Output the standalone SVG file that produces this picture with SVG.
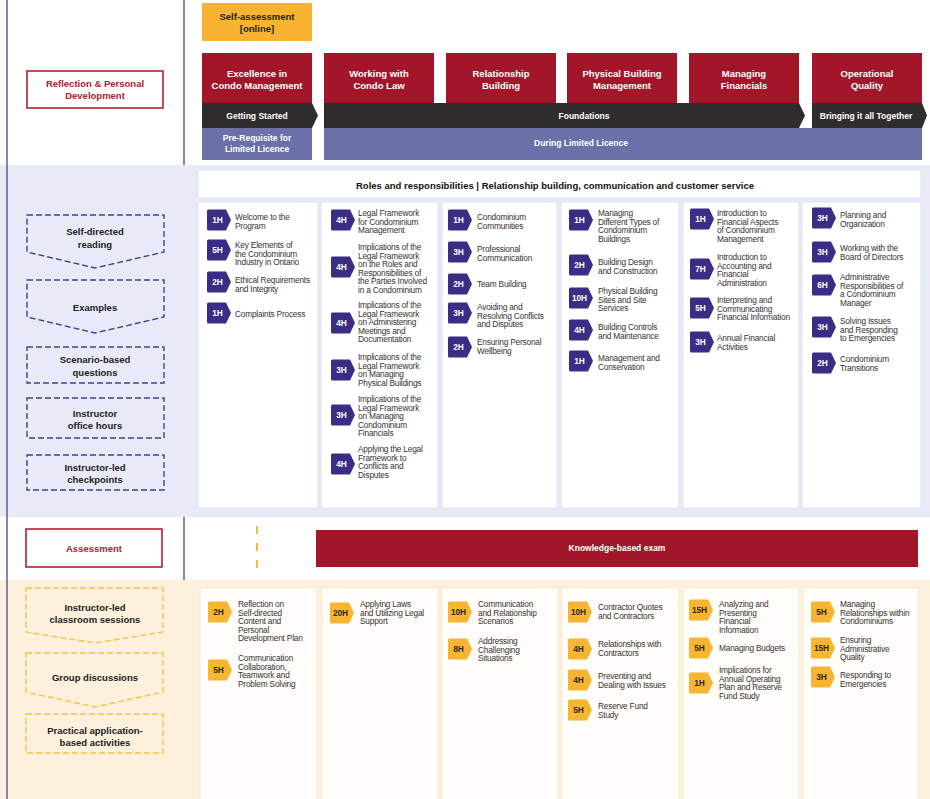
<svg xmlns="http://www.w3.org/2000/svg" xmlns:xlink="http://www.w3.org/1999/xlink" width="930" height="799" viewBox="0 0 930 799">
<style>
text{dominant-baseline:central;font-family:"Liberation Sans",Arial,sans-serif}
.lav{fill:#e8ebf7}
.crm{fill:#fdf1dd}
.panel{fill:#ffffff;stroke:#d9ddf0;stroke-width:0.8}
.panelo{fill:#fffdf9;stroke:#f7e6c8;stroke-width:0.8}
.red{fill:#a3162a}
.dark{fill:#2f2c2d}
.slate{fill:#6b70a8}
.yel{fill:#f8b431}
.hdr{font-size:9.5px;font-weight:bold;fill:#fff;text-anchor:middle}
.hdrs{font-size:8.5px;font-weight:bold;fill:#fff;text-anchor:middle}
.lbl{font-size:9.5px;font-weight:bold;fill:#222;text-anchor:middle}
.rlbl{font-size:9.5px;font-weight:bold;fill:#b0202f;text-anchor:middle}
.redbox{fill:#fff;stroke:#b5212e;stroke-width:1.6}
.item{font-size:8.3px;fill:#333;letter-spacing:-0.2px}
.bp{fill:#3b2c85}
.bo{fill:#f7b532}
.bt{font-size:8.3px;font-weight:bold;fill:#fff;text-anchor:middle}
.bto{font-size:8.3px;font-weight:bold;fill:#2a2a2a;text-anchor:middle}
.dn{fill:none;stroke:#404290;stroke-width:1.4;stroke-dasharray:6 3}
.do{fill:none;stroke:#f5c24a;stroke-width:1.4;stroke-dasharray:6 3}
.vline{stroke:#5a5ea0;stroke-width:1.5}
</style>
<defs>
<path id="bdg" d="M1.5,0 H19 L24,10.5 L19,21 H1.5 Q0,21 0,19.5 V1.5 Q0,0 1.5,0 Z"/>
</defs>

<!-- backgrounds -->
<rect x="0" y="0" width="930" height="799" fill="#ffffff"/>
<rect class="lav" x="0" y="165" width="930" height="352"/>
<rect class="crm" x="0" y="580" width="930" height="219"/>
<line class="vline" x1="7" y1="0" x2="7" y2="799"/>
<line class="vline" x1="184" y1="0" x2="184" y2="165"/>
<line class="vline" x1="184" y1="517" x2="184" y2="580"/>

<!-- top row -->
<g id="self-assessment">
<rect class="yel" x="202" y="3" width="110" height="38"/>
<text class="lbl" x="257" y="16">Self-assessment</text>
<text class="lbl" x="257" y="28">[online]</text>
</g>
<g id="reflection">
<rect class="redbox" x="27" y="71" width="136" height="37"/>
<text class="rlbl" x="95" y="83">Reflection &amp; Personal</text>
<text class="rlbl" x="95" y="95">Development</text>
</g>
<g id="mod-excellence"><rect class="red" x="202" y="53" width="110" height="50"/><text class="hdr" x="257" y="73">Excellence in</text><text class="hdr" x="257" y="85">Condo Management</text></g>
<g id="mod-law"><rect class="red" x="324" y="53" width="110" height="50"/><text class="hdr" x="379" y="73">Working with</text><text class="hdr" x="379" y="85">Condo Law</text></g>
<g id="mod-relationship"><rect class="red" x="446" y="53" width="110" height="50"/><text class="hdr" x="501" y="73">Relationship</text><text class="hdr" x="501" y="85">Building</text></g>
<g id="mod-physical"><rect class="red" x="567" y="53" width="110" height="50"/><text class="hdr" x="622" y="73">Physical Building</text><text class="hdr" x="622" y="85">Management</text></g>
<g id="mod-financials"><rect class="red" x="689" y="53" width="110" height="50"/><text class="hdr" x="744" y="73">Managing</text><text class="hdr" x="744" y="85">Financials</text></g>
<g id="mod-operational"><rect class="red" x="812" y="53" width="110" height="50"/><text class="hdr" x="867" y="73">Operational</text><text class="hdr" x="867" y="85">Quality</text></g>

<g id="phase-getting-started"><path class="dark" d="M202,103 H312 L318,115.5 L312,128 H202 Z"/><text class="hdrs" x="257" y="116">Getting Started</text></g>
<g id="phase-foundations"><path class="dark" d="M324,103 H799 L805,115.5 L799,128 H324 Z"/><text class="hdrs" x="584" y="116">Foundations</text></g>
<g id="phase-together"><path class="dark" d="M812,103 H922 L927,115.5 L922,128 H812 Z"/><text class="hdrs" x="866" y="116">Bringing it all Together</text></g>
<g id="licence-pre"><rect class="slate" x="202" y="128" width="110" height="32"/><text class="hdrs" x="257" y="138">Pre-Requisite for</text><text class="hdrs" x="257" y="149">Limited Licence</text></g>
<g id="licence-during"><rect class="slate" x="324" y="128" width="598" height="32"/><text class="hdrs" x="581" y="143">During Limited Licence</text></g>

<!-- blue band -->
<g id="roles-header">
<rect class="panel" x="198" y="170" width="723" height="28"/>
<text x="555" y="185" style="font-size:9.5px;font-weight:bold;fill:#111;text-anchor:middle">Roles and responsibilities | Relationship building, communication and customer service</text>
</g>
<g id="left-self-directed"><path class="dn" d="M27,215 H164 V252 L95,268 L27,252 Z"/><text class="lbl" x="95" y="231">Self-directed</text><text class="lbl" x="95" y="244">reading</text></g>
<g id="left-examples"><path class="dn" d="M27,280 H164 V317 L95,333 L27,317 Z"/><text class="lbl" x="95" y="307">Examples</text></g>
<g id="left-scenario"><rect class="dn" x="27" y="347" width="137" height="36"/><text class="lbl" x="95" y="359">Scenario-based</text><text class="lbl" x="95" y="372">questions</text></g>
<g id="left-office"><rect class="dn" x="27" y="398" width="137" height="40"/><text class="lbl" x="95" y="413">Instructor</text><text class="lbl" x="95" y="425">office hours</text></g>
<g id="left-checkpoints"><rect class="dn" x="27" y="455" width="137" height="35"/><text class="lbl" x="95" y="467">Instructor-led</text><text class="lbl" x="95" y="479">checkpoints</text></g>

<g id="col1-self">
<rect class="panel" x="198" y="202" width="120" height="306"/>
<use href="#bdg" class="bp" x="207" y="209.5"/><text class="bt" x="217.5" y="220">1H</text>
<text class="item"><tspan x="235" y="217">Welcome to the</tspan><tspan x="235" y="225.6">Program</tspan></text>
<use href="#bdg" class="bp" x="207" y="239.5"/><text class="bt" x="217.5" y="250">5H</text>
<text class="item"><tspan x="235" y="245">Key Elements of</tspan><tspan x="235" y="253.6">the Condominium</tspan><tspan x="235" y="262.2">Industry in Ontario</tspan></text>
<use href="#bdg" class="bp" x="207" y="271.5"/><text class="bt" x="217.5" y="282">2H</text>
<text class="item"><tspan x="235" y="280">Ethical Requirements</tspan><tspan x="235" y="288.6">and Integrity</tspan></text>
<use href="#bdg" class="bp" x="207" y="302.5"/><text class="bt" x="217.5" y="313">1H</text>
<text class="item"><tspan x="235" y="314">Complaints Process</tspan></text>
</g>

<g id="col2-self">
<rect class="panel" x="321" y="202" width="117" height="306"/>
<use href="#bdg" class="bp" x="331" y="209.5"/><text class="bt" x="341.5" y="220">4H</text>
<text class="item"><tspan x="358" y="213">Legal Framework</tspan><tspan x="358" y="221.6">for Condominium</tspan><tspan x="358" y="230.2">Management</tspan></text>
<use href="#bdg" class="bp" x="331" y="256.5"/><text class="bt" x="341.5" y="267">4H</text>
<text class="item"><tspan x="358" y="247">Implications of the</tspan><tspan x="358" y="255.6">Legal Framework</tspan><tspan x="358" y="264.2">on the Roles and</tspan><tspan x="358" y="272.8">Responsibilities of</tspan><tspan x="358" y="281.4">the Parties Involved</tspan><tspan x="358" y="290">in a Condominium</tspan></text>
<use href="#bdg" class="bp" x="331" y="312.5"/><text class="bt" x="341.5" y="323">4H</text>
<text class="item"><tspan x="358" y="305">Implications of the</tspan><tspan x="358" y="313.6">Legal Framework</tspan><tspan x="358" y="322.2">on Administering</tspan><tspan x="358" y="330.8">Meetings and</tspan><tspan x="358" y="339.4">Documentation</tspan></text>
<use href="#bdg" class="bp" x="331" y="359.5"/><text class="bt" x="341.5" y="370">3H</text>
<text class="item"><tspan x="358" y="357">Implications of the</tspan><tspan x="358" y="365.6">Legal Framework</tspan><tspan x="358" y="374.2">on Managing</tspan><tspan x="358" y="382.8">Physical Buildings</tspan></text>
<use href="#bdg" class="bp" x="331" y="404.5"/><text class="bt" x="341.5" y="415">3H</text>
<text class="item"><tspan x="358" y="399">Implications of the</tspan><tspan x="358" y="407.6">Legal Framework</tspan><tspan x="358" y="416.2">on Managing</tspan><tspan x="358" y="424.8">Condominium</tspan><tspan x="358" y="433.4">Financials</tspan></text>
<use href="#bdg" class="bp" x="331" y="453.5"/><text class="bt" x="341.5" y="464">4H</text>
<text class="item"><tspan x="358" y="449">Applying the Legal</tspan><tspan x="358" y="457.6">Framework to</tspan><tspan x="358" y="466.2">Conflicts and</tspan><tspan x="358" y="474.8">Disputes</tspan></text>
</g>

<g id="col3-self">
<rect class="panel" x="442" y="202" width="115" height="306"/>
<use href="#bdg" class="bp" x="448" y="209.5"/><text class="bt" x="458.5" y="220">1H</text>
<text class="item"><tspan x="477" y="217">Condominium</tspan><tspan x="477" y="225.6">Communities</tspan></text>
<use href="#bdg" class="bp" x="448" y="241.5"/><text class="bt" x="458.5" y="252">3H</text>
<text class="item"><tspan x="477" y="249">Professional</tspan><tspan x="477" y="257.6">Communication</tspan></text>
<use href="#bdg" class="bp" x="448" y="273.5"/><text class="bt" x="458.5" y="284">2H</text>
<text class="item"><tspan x="477" y="284">Team Building</tspan></text>
<use href="#bdg" class="bp" x="448" y="302.5"/><text class="bt" x="458.5" y="313">3H</text>
<text class="item"><tspan x="477" y="307">Avoiding and</tspan><tspan x="477" y="315.6">Resolving Conflicts</tspan><tspan x="477" y="324.2">and Disputes</tspan></text>
<use href="#bdg" class="bp" x="448" y="336.5"/><text class="bt" x="458.5" y="347">2H</text>
<text class="item"><tspan x="477" y="342">Ensuring Personal</tspan><tspan x="477" y="350.6">Wellbeing</tspan></text>
</g>

<g id="col4-self">
<rect class="panel" x="561" y="202" width="118" height="306"/>
<use href="#bdg" class="bp" x="569" y="209.5"/><text class="bt" x="579.5" y="220">1H</text>
<text class="item"><tspan x="598" y="213">Managing</tspan><tspan x="598" y="221.6">Different Types of</tspan><tspan x="598" y="230.2">Condominium</tspan><tspan x="598" y="238.8">Buildings</tspan></text>
<use href="#bdg" class="bp" x="569" y="254.5"/><text class="bt" x="579.5" y="265">2H</text>
<text class="item"><tspan x="598" y="262">Building Design</tspan><tspan x="598" y="270.6">and Construction</tspan></text>
<use href="#bdg" class="bp" x="569" y="287.5"/><text class="bt" x="579.5" y="298">10H</text>
<text class="item"><tspan x="598" y="291">Physical Building</tspan><tspan x="598" y="299.6">Sites and Site</tspan><tspan x="598" y="308.2">Services</tspan></text>
<use href="#bdg" class="bp" x="569" y="319.5"/><text class="bt" x="579.5" y="330">4H</text>
<text class="item"><tspan x="598" y="327">Building Controls</tspan><tspan x="598" y="335.6">and Maintenance</tspan></text>
<use href="#bdg" class="bp" x="569" y="350.5"/><text class="bt" x="579.5" y="361">1H</text>
<text class="item"><tspan x="598" y="358">Management and</tspan><tspan x="598" y="366.6">Conservation</tspan></text>
</g>

<g id="col5-self">
<rect class="panel" x="683" y="202" width="116" height="306"/>
<use href="#bdg" class="bp" x="690" y="208.5"/><text class="bt" x="700.5" y="219">1H</text>
<text class="item"><tspan x="717" y="213">Introduction to</tspan><tspan x="717" y="221.6">Financial Aspects</tspan><tspan x="717" y="230.2">of Condominium</tspan><tspan x="717" y="238.8">Management</tspan></text>
<use href="#bdg" class="bp" x="690" y="258.5"/><text class="bt" x="700.5" y="269">7H</text>
<text class="item"><tspan x="717" y="257">Introduction to</tspan><tspan x="717" y="265.6">Accounting and</tspan><tspan x="717" y="274.2">Financial</tspan><tspan x="717" y="282.8">Administration</tspan></text>
<use href="#bdg" class="bp" x="690" y="297.5"/><text class="bt" x="700.5" y="308">5H</text>
<text class="item"><tspan x="717" y="300">Interpreting and</tspan><tspan x="717" y="308.6">Communicating</tspan><tspan x="717" y="317.2">Financial Information</tspan></text>
<use href="#bdg" class="bp" x="690" y="331.5"/><text class="bt" x="700.5" y="342">3H</text>
<text class="item"><tspan x="717" y="338">Annual Financial</tspan><tspan x="717" y="346.6">Activities</tspan></text>
</g>

<g id="col6-self">
<rect class="panel" x="802" y="202" width="119" height="306"/>
<use href="#bdg" class="bp" x="812" y="207.5"/><text class="bt" x="822.5" y="218">3H</text>
<text class="item"><tspan x="840" y="215">Planning and</tspan><tspan x="840" y="223.6">Organization</tspan></text>
<use href="#bdg" class="bp" x="812" y="241.5"/><text class="bt" x="822.5" y="252">3H</text>
<text class="item"><tspan x="840" y="248">Working with the</tspan><tspan x="840" y="256.6">Board of Directors</tspan></text>
<use href="#bdg" class="bp" x="812" y="274.5"/><text class="bt" x="822.5" y="285">6H</text>
<text class="item"><tspan x="840" y="277">Administrative</tspan><tspan x="840" y="285.6">Responsibilities of</tspan><tspan x="840" y="294.2">a Condominium</tspan><tspan x="840" y="302.8">Manager</tspan></text>
<use href="#bdg" class="bp" x="812" y="316.5"/><text class="bt" x="822.5" y="327">3H</text>
<text class="item"><tspan x="840" y="321">Solving Issues</tspan><tspan x="840" y="329.6">and Responding</tspan><tspan x="840" y="338.2">to Emergencies</tspan></text>
<use href="#bdg" class="bp" x="812" y="352.5"/><text class="bt" x="822.5" y="363">2H</text>
<text class="item"><tspan x="840" y="359">Condominium</tspan><tspan x="840" y="367.6">Transitions</tspan></text>
</g>

<!-- assessment row -->
<g id="assessment">
<rect class="redbox" x="26" y="529" width="136" height="38"/>
<text class="rlbl" x="94" y="548">Assessment</text>
</g>
<g id="knowledge-exam">
<rect class="red" x="316" y="530" width="602" height="37"/>
<text class="hdrs" x="617" y="548">Knowledge-based exam</text>
</g>
<g id="connectors">
<line x1="257" y1="526" x2="257" y2="568" stroke="#f5b52e" stroke-width="1.8" stroke-dasharray="8 9"/>
</g>

<!-- cream band -->
<g id="left-classroom"><path class="do" d="M26,588 H163 V632 L95,643 L26,632 Z"/><text class="lbl" x="95" y="607">Instructor-led</text><text class="lbl" x="95" y="619">classroom sessions</text></g>
<g id="left-group"><path class="do" d="M26,653 H163 V692 L95,707 L26,692 Z"/><text class="lbl" x="95" y="677">Group discussions</text></g>
<g id="left-practical"><rect class="do" x="26" y="714" width="137" height="39"/><text class="lbl" x="95" y="730">Practical application-</text><text class="lbl" x="95" y="742">based activities</text></g>

<g id="col1-class">
<rect class="panelo" x="200" y="588" width="117" height="215"/>
<use href="#bdg" class="bo" x="208" y="601.5"/><text class="bto" x="218.5" y="612">2H</text>
<text class="item"><tspan x="238" y="604">Reflection on</tspan><tspan x="238" y="612.6">Self-directed</tspan><tspan x="238" y="621.2">Content and</tspan><tspan x="238" y="629.8">Personal</tspan><tspan x="238" y="638.4">Development Plan</tspan></text>
<use href="#bdg" class="bo" x="208" y="659.5"/><text class="bto" x="218.5" y="670">5H</text>
<text class="item"><tspan x="238" y="658">Communication</tspan><tspan x="238" y="666.6">Collaboration,</tspan><tspan x="238" y="675.2">Teamwork and</tspan><tspan x="238" y="683.8">Problem Solving</tspan></text>
</g>
<g id="col2-class">
<rect class="panelo" x="322" y="588" width="116" height="215"/>
<use href="#bdg" class="bo" x="330" y="602.5"/><text class="bto" x="340.5" y="613">20H</text>
<text class="item"><tspan x="360" y="604">Applying Laws</tspan><tspan x="360" y="612.6">and Utilizing Legal</tspan><tspan x="360" y="621.2">Support</tspan></text>
</g>
<g id="col3-class">
<rect class="panelo" x="442" y="588" width="116" height="215"/>
<use href="#bdg" class="bo" x="448" y="601.5"/><text class="bto" x="458.5" y="612">10H</text>
<text class="item"><tspan x="478" y="604">Communication</tspan><tspan x="478" y="612.6">and Relationship</tspan><tspan x="478" y="621.2">Scenarios</tspan></text>
<use href="#bdg" class="bo" x="448" y="638.5"/><text class="bto" x="458.5" y="649">8H</text>
<text class="item"><tspan x="478" y="641">Addressing</tspan><tspan x="478" y="649.6">Challenging</tspan><tspan x="478" y="658.2">Situations</tspan></text>
</g>
<g id="col4-class">
<rect class="panelo" x="562" y="588" width="117" height="215"/>
<use href="#bdg" class="bo" x="568" y="601.5"/><text class="bto" x="578.5" y="612">10H</text>
<text class="item"><tspan x="598" y="607">Contractor Quotes</tspan><tspan x="598" y="615.6">and Contractors</tspan></text>
<use href="#bdg" class="bo" x="568" y="638.5"/><text class="bto" x="578.5" y="649">4H</text>
<text class="item"><tspan x="598" y="644">Relationships with</tspan><tspan x="598" y="652.6">Contractors</tspan></text>
<use href="#bdg" class="bo" x="568" y="669.5"/><text class="bto" x="578.5" y="680">4H</text>
<text class="item"><tspan x="598" y="676">Preventing and</tspan><tspan x="598" y="684.6">Dealing with Issues</tspan></text>
<use href="#bdg" class="bo" x="568" y="699.5"/><text class="bto" x="578.5" y="710">5H</text>
<text class="item"><tspan x="598" y="706">Reserve Fund</tspan><tspan x="598" y="714.6">Study</tspan></text>
</g>
<g id="col5-class">
<rect class="panelo" x="683" y="588" width="116" height="215"/>
<use href="#bdg" class="bo" x="689" y="599.5"/><text class="bto" x="699.5" y="610">15H</text>
<text class="item"><tspan x="719" y="604">Analyzing and</tspan><tspan x="719" y="612.6">Presenting</tspan><tspan x="719" y="621.2">Financial</tspan><tspan x="719" y="629.8">Information</tspan></text>
<use href="#bdg" class="bo" x="689" y="637.5"/><text class="bto" x="699.5" y="648">5H</text>
<text class="item"><tspan x="719" y="648">Managing Budgets</tspan></text>
<use href="#bdg" class="bo" x="689" y="672.5"/><text class="bto" x="699.5" y="683">1H</text>
<text class="item"><tspan x="719" y="670">Implications for</tspan><tspan x="719" y="678.6">Annual Operating</tspan><tspan x="719" y="687.2">Plan and Reserve</tspan><tspan x="719" y="695.8">Fund Study</tspan></text>
</g>
<g id="col6-class">
<rect class="panelo" x="803" y="588" width="115" height="215"/>
<use href="#bdg" class="bo" x="811" y="601.5"/><text class="bto" x="821.5" y="612">5H</text>
<text class="item"><tspan x="840" y="604">Managing</tspan><tspan x="840" y="612.6">Relationships within</tspan><tspan x="840" y="621.2">Condominiums</tspan></text>
<use href="#bdg" class="bo" x="811" y="637.5"/><text class="bto" x="821.5" y="648">15H</text>
<text class="item"><tspan x="840" y="640">Ensuring</tspan><tspan x="840" y="648.6">Administrative</tspan><tspan x="840" y="657.2">Quality</tspan></text>
<use href="#bdg" class="bo" x="811" y="666.5"/><text class="bto" x="821.5" y="677">3H</text>
<text class="item"><tspan x="840" y="675">Responding to</tspan><tspan x="840" y="683.6">Emergencies</tspan></text>
</g>
</svg>
